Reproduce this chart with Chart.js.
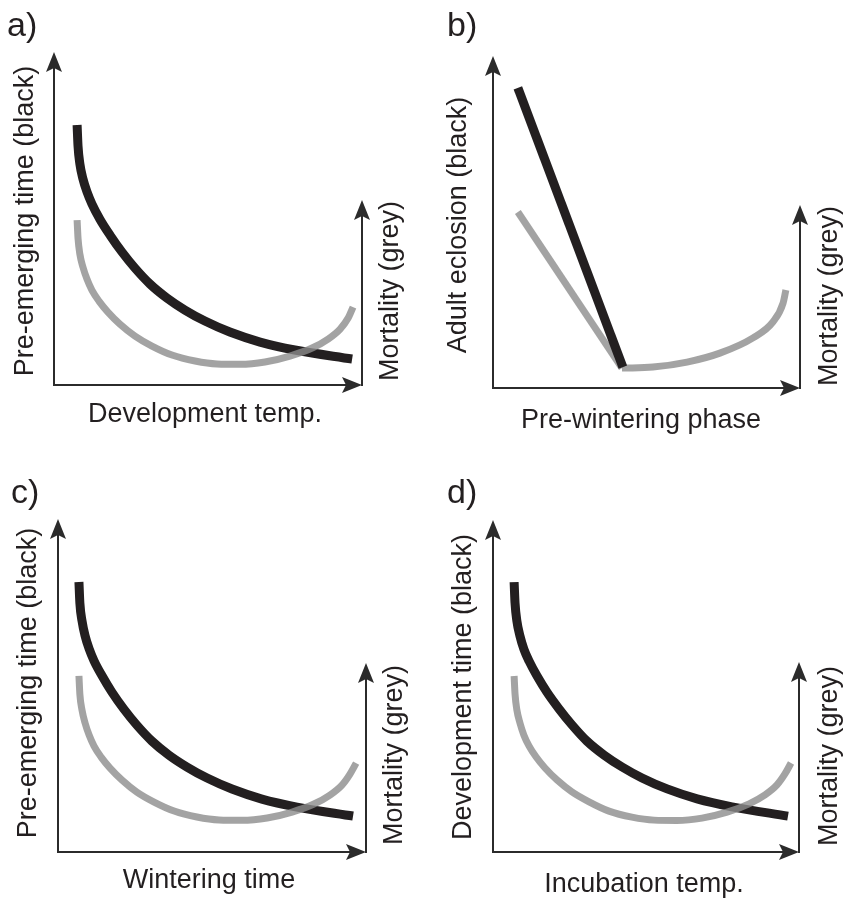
<!DOCTYPE html>
<html lang="en">
<head>
<meta charset="UTF-8">
<script src="https://cdn.jsdelivr.net/npm/chart.js"></script>
<title>Pre-emerging time and mortality</title>
<style>
body { margin: 0; background: #fff; }
#wrap { position: relative; width: 844px; height: 898px; overflow: hidden; }
#wrap canvas { position: absolute; }
</style>
</head>
<body>
<div id="wrap">
	<canvas id="panelA" width="422" height="449" style="left:0;top:0"></canvas>
	<canvas id="panelB" width="422" height="449" style="left:422px;top:0"></canvas>
	<canvas id="panelC" width="422" height="449" style="left:0;top:449px"></canvas>
	<canvas id="panelD" width="422" height="449" style="left:422px;top:449px"></canvas>
</div>
<script>
// schematic values, axes run 0..100 in every panel

// a) development temp.
var aBlackX = [7.5, 7.8, 8.4, 9.4, 10.7, 12.3, 14.9, 18.2, 22.1, 26.3, 31.2, 36.7, 42.5, 49.0, 57.1, 66.9, 78.2, 96.8];
var aBlackY = [78.1, 71.8, 66.4, 61.9, 58.0, 54.4, 49.8, 45.0, 39.9, 35.1, 30.3, 26.1, 22.5, 19.2, 15.9, 12.9, 10.5, 7.8];
var aGreyX = [7.5, 7.8, 8.4, 9.4, 10.7, 12.3, 14.6, 17.5, 21.4, 26.3, 31.8, 38.3, 45.8, 52.9, 60.4, 68.5, 76.6, 83.8, 89.0, 92.9, 95.5, 97.1];
var aGreyY = [49.5, 44.1, 39.3, 35.4, 31.8, 28.5, 25.2, 21.9, 18.3, 14.7, 11.7, 9.0, 7.2, 6.3, 6.2, 6.9, 8.7, 11.1, 13.8, 16.8, 20.1, 23.4];

// b) pre-wintering phase
var bBlackX = [8.1, 42.3];
var bBlackY = [90.4, 6.3];
var bGreyLineX = [8.1, 42.0];
var bGreyLineY = [53.0, 6.0];
var bGreyX = [42.0, 52.1, 63.2, 73.9, 84.7, 91.2, 94.5, 95.4];
var bGreyY = [6.0, 6.3, 7.8, 10.5, 15.1, 19.9, 25.6, 29.5];

// c) wintering time
var cBlackX = [6.8, 7.1, 7.8, 8.8, 10.1, 11.7, 14.3, 17.5, 21.4, 25.6, 30.5, 36.0, 41.9, 48.4, 56.5, 66.2, 77.6, 95.8];
var cBlackY = [81.1, 74.8, 69.4, 64.9, 61.0, 57.4, 52.9, 48.0, 42.9, 38.1, 33.3, 29.1, 25.5, 22.2, 18.9, 15.9, 13.5, 10.8];
var cGreyX = [6.8, 7.1, 7.8, 8.8, 10.1, 11.7, 14.0, 16.9, 20.8, 25.6, 31.2, 37.7, 45.1, 52.3, 59.7, 67.9, 76.0, 83.1, 88.3, 92.2, 94.8, 96.8];
var cGreyY = [52.9, 47.4, 42.6, 38.7, 35.1, 31.8, 28.5, 25.2, 21.6, 18.0, 15.0, 12.3, 10.5, 9.6, 9.5, 10.2, 12.0, 14.4, 17.1, 20.1, 23.4, 26.7];

// d) incubation temp.
var dBlackX = [6.9, 7.2, 7.8, 8.8, 10.1, 11.8, 14.4, 17.6, 21.6, 25.8, 30.7, 36.3, 42.2, 48.7, 56.9, 66.7, 78.1, 96.4];
var dBlackY = [81.3, 75.0, 69.6, 65.1, 61.1, 57.5, 53.0, 48.2, 43.1, 38.3, 33.4, 29.2, 25.6, 22.3, 19.0, 16.0, 13.6, 10.8];
var dGreyX = [6.9, 7.2, 7.8, 8.8, 10.1, 11.8, 14.1, 17.0, 20.9, 25.8, 31.4, 37.9, 45.4, 52.6, 60.1, 68.3, 76.5, 83.7, 88.9, 92.8, 95.4, 97.4];
var dGreyY = [53.0, 47.6, 42.8, 38.9, 35.2, 31.9, 28.6, 25.3, 21.7, 18.1, 15.1, 12.3, 10.5, 9.6, 9.5, 10.2, 12.0, 14.5, 17.2, 20.2, 23.5, 26.8];

// top of the right (mortality) axis, in y units
var rightAxisTop = [55.6, 55.1, 56.8, 57.2];

var panelLetters = ['a)', 'b)', 'c)', 'd)'];
var leftTitles = ['Pre-emerging time (black)', 'Adult eclosion (black)', 'Pre-emerging time (black)', 'Development time (black)'];
var bottomTitles = ['Development temp.', 'Pre-wintering phase', 'Wintering time', 'Incubation temp.'];
var rightTitle = 'Mortality (grey)';

var BLACK = '#231f20';
var GREY = 'rgba(140,140,140,0.8)';
var AXIS = '#2b2b2b';
var FONT = '"Liberation Sans", Arial, Helvetica, sans-serif';

function toPoints(xs, ys) {
	return xs.map(function (x, i) { return { x: x, y: ys[i] }; });
}

function arrowHead(ctx, x, y, dir) {
	ctx.beginPath();
	ctx.moveTo(x, y);
	if (dir === 'up') {
		ctx.lineTo(x - 8, y + 20);
		ctx.lineTo(x, y + 16);
		ctx.lineTo(x + 8, y + 20);
	} else {
		ctx.lineTo(x - 20, y - 8);
		ctx.lineTo(x - 16, y);
		ctx.lineTo(x - 20, y + 8);
	}
	ctx.closePath();
	ctx.fill();
}

function rotatedText(ctx, text, x, y) {
	ctx.save();
	ctx.translate(x, y);
	ctx.rotate(-Math.PI / 2);
	ctx.textAlign = 'center';
	ctx.fillText(text, 0, 0);
	ctx.restore();
}

// arrows + labels
var sketchAxes = {
	id: 'sketchAxes',
	afterDraw: function (chart, args, o) {
		var ctx = chart.ctx;
		var xs = chart.scales.x, ys = chart.scales.y;
		var L = Math.round(xs.getPixelForValue(0)), R = Math.round(xs.getPixelForValue(100));
		var B = Math.round(ys.getPixelForValue(0)), T = Math.round(ys.getPixelForValue(100));
		var RT = Math.round(ys.getPixelForValue(o.rightTop));
		ctx.save();
		ctx.strokeStyle = AXIS;
		ctx.fillStyle = AXIS;
		ctx.lineWidth = 2;
		ctx.beginPath();
		ctx.moveTo(L, T + 12);
		ctx.lineTo(L, B);
		ctx.lineTo(R - 12, B);
		ctx.moveTo(R, B + 1);
		ctx.lineTo(R, RT + 12);
		ctx.stroke();
		arrowHead(ctx, L, T, 'up');
		arrowHead(ctx, R, B, 'right');
		arrowHead(ctx, R, RT, 'up');

		ctx.fillStyle = BLACK;
		ctx.textBaseline = 'alphabetic';
		ctx.font = '34px ' + FONT;
		ctx.textAlign = 'left';
		ctx.fillText(o.letter, o.letterPos[0], o.letterPos[1]);
		ctx.font = '27px ' + FONT;
		ctx.textAlign = 'center';
		ctx.fillText(o.bottom, o.bottomPos[0], o.bottomPos[1]);
		rotatedText(ctx, o.left, o.leftPos[0], o.leftPos[1]);
		rotatedText(ctx, o.right, o.rightPos[0], o.rightPos[1]);
		ctx.restore();
	}
};

function lineSet(points, color, width, smooth) {
	return {
		data: points,
		borderColor: color,
		borderWidth: width,
		pointRadius: 0,
		fill: false,
		tension: 0,
		cubicInterpolationMode: smooth ? 'monotone' : 'default',
		borderCapStyle: 'butt',
		borderJoinStyle: 'round'
	};
}

function makePanel(id, idx, datasets, pad, pos) {
	new Chart(document.getElementById(id), {
		type: 'line',
		data: { datasets: datasets },
		options: {
			responsive: false,
			animation: false,
			events: [],
			layout: { padding: pad },
			scales: {
				x: { type: 'linear', min: 0, max: 100, display: false },
				y: { type: 'linear', min: 0, max: 100, display: false }
			},
			plugins: {
				legend: { display: false },
				tooltip: { enabled: false },
				sketchAxes: {
					rightTop: rightAxisTop[idx],
					letter: panelLetters[idx],
					left: leftTitles[idx],
					bottom: bottomTitles[idx],
					right: rightTitle,
					letterPos: pos.letter,
					leftPos: pos.left,
					bottomPos: pos.bottom,
					rightPos: pos.right
				}
			}
		},
		plugins: [sketchAxes]
	});
}

// first dataset is drawn on top
makePanel('panelA', 0, [
	lineSet(toPoints(aGreyX, aGreyY), GREY, 7, true),
	lineSet(toPoints(aBlackX, aBlackY), BLACK, 9, true)
], { left: 54, top: 52, right: 60, bottom: 64 },
	{ letter: [7, 36], left: [33, 221], bottom: [205, 422], right: [398, 291] });

makePanel('panelB', 1, [
	lineSet(toPoints(bBlackX, bBlackY), BLACK, 9, false),
	lineSet(toPoints(bGreyLineX, bGreyLineY), GREY, 7, false),
	lineSet(toPoints(bGreyX, bGreyY), GREY, 7, true)
], { left: 71, top: 56, right: 44, bottom: 61 },
	{ letter: [25, 36], left: [44, 225], bottom: [219, 428], right: [415, 296] });

makePanel('panelC', 2, [
	lineSet(toPoints(cGreyX, cGreyY), GREY, 7, true),
	lineSet(toPoints(cBlackX, cBlackY), BLACK, 9, true)
], { left: 58, top: 70, right: 56, bottom: 46 },
	{ letter: [11, 54], left: [36, 234], bottom: [209, 439], right: [402, 306] });

makePanel('panelD', 3, [
	lineSet(toPoints(dGreyX, dGreyY), GREY, 7, true),
	lineSet(toPoints(dBlackX, dBlackY), BLACK, 9, true)
], { left: 71, top: 71, right: 45, bottom: 46 },
	{ letter: [25, 54], left: [49, 238], bottom: [222, 443], right: [415, 307] });
</script>
</body>
</html>
